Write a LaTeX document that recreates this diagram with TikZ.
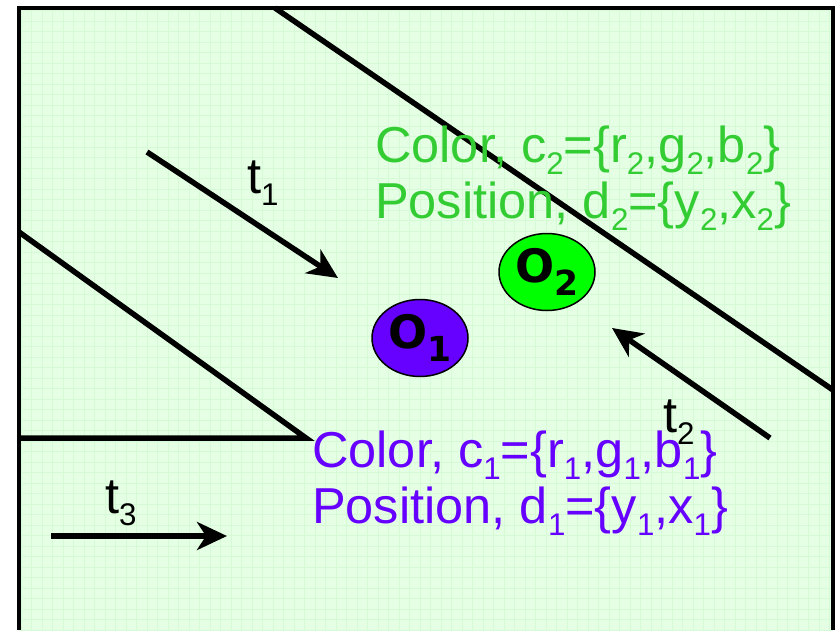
\documentclass[tikz,border=0pt]{standalone}
\usepackage{fontspec}
\usepackage{graphicx}
\setmainfont{Liberation Sans}
\newfontfamily\objfont{DejaVu Sans}
\usetikzlibrary{arrows.meta,shapes.geometric}
\definecolor{paper}{RGB}{228,255,228}
\definecolor{gridgreen}{RGB}{214,249,214}
\definecolor{txtgreen}{RGB}{51,204,51}
\definecolor{txtpurple}{RGB}{102,0,255}
\definecolor{objgreen}{RGB}{0,255,0}
\newcommand{\lo}[1]{\raisebox{-.25em}{\scalebox{.62}{#1}}}
\newcommand{\olo}[1]{\raisebox{-.3em}{\scalebox{.75}{#1}}}
\tikzset{
 track/.style={line width=5.5pt},
 move/.style={line width=5.5pt,-{Stealth[length=30pt,width=28pt,inset=9pt]}},
 obj/.style={ellipse,draw,line width=1.5pt,minimum width=96pt,minimum height=77pt,inner sep=0pt,font=\objfont\bfseries\fontsize{46}{46}\selectfont},
 big/.style={inner sep=0pt,anchor=base west,font=\fontsize{50.5}{56}\selectfont}
}
\begin{document}
\begin{tikzpicture}[x=1pt,y=-1pt]
\useasboundingbox (0,0) rectangle (838,630);
\fill[paper] (19,8) rectangle (833,630);
\draw[gridgreen,line width=.6pt,step=10.5pt] (19,8) grid (833,630);
\draw[line width=4.5pt] (19,630)--(19,8)--(833,8)--(833,630);
\coordinate (u1) at (275,8);\coordinate (u2) at (833,390);
\coordinate (v1) at (19,232);\coordinate (v2) at (306,438);\coordinate (v3) at (19,438);
\draw[track] (u1)--(u2);
\draw[track,line join=miter] (v1)--(v2)--(v3);
\node[obj,fill=txtpurple] (o1) at (420,338) {O\olo{1}};
\node[obj,fill=objgreen] (o2) at (547,272) {O\olo{2}};
\coordinate (a1) at (147,152);\coordinate (b1) at (338,278);
\coordinate (a2) at (770,438);\coordinate (b2) at (612,328);
\coordinate (a3) at (51,536);\coordinate (b3) at (227,536);
\draw[move] (a1)--(b1);\draw[move] (a2)--(b2);\draw[move] (a3)--(b3);
\node[big] (t1) at (247,193) {t\lo{1}};
\node[big] (t2) at (663,432) {t\lo{2}};
\node[big] (t3) at (105,513) {t\lo{3}};
\node[big,txtgreen] (c2) at (375,162) {Color, c\lo{2}=\{r\lo{2},g\lo{2},b\lo{2}\}};
\node[big,txtgreen] (d2) at (375,218) {Position, d\lo{2}=\{y\lo{2},x\lo{2}\}};
\node[big,txtpurple] (c1) at (312,467) {Color, c\lo{1}=\{r\lo{1},g\lo{1},b\lo{1}\}};
\node[big,txtpurple] (d1) at (312,523) {Position, d\lo{1}=\{y\lo{1},x\lo{1}\}};
\end{tikzpicture}
\end{document}
